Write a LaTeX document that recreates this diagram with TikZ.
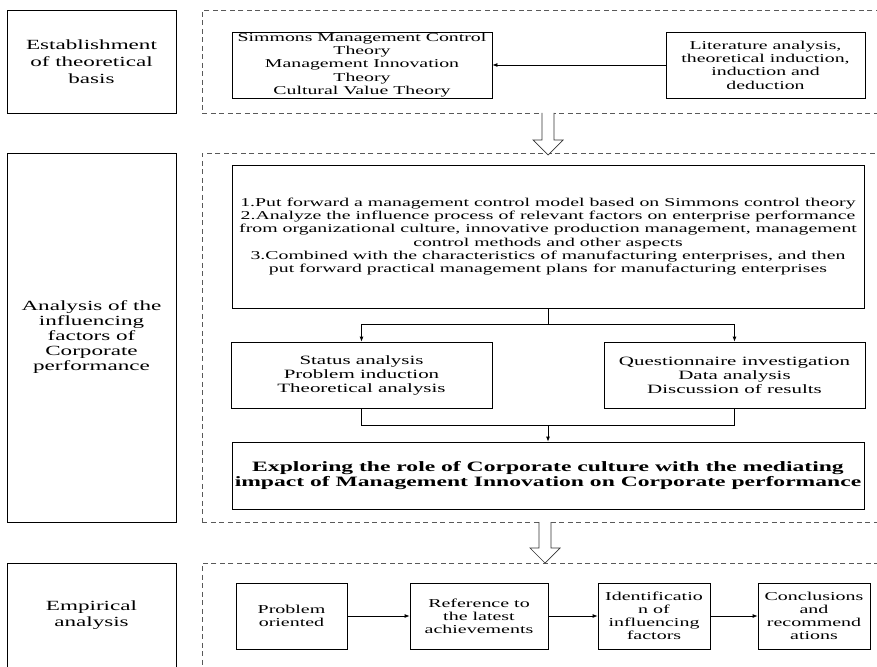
\documentclass[tikz,border=0pt]{standalone}
\usepackage{fontspec}
\setmainfont{Liberation Serif}[FakeStretch=1.65]
\usetikzlibrary{arrows.meta,positioning}

\begin{document}
\begin{tikzpicture}[x=1pt,y=-1pt,line width=0.8pt,
  every node/.style={shape=rectangle,align=center,inner sep=1pt},
  box/.style={draw=black,fill=white},
  stagebox/.style={box,minimum width=169pt,font=\fontsize{14}{15}\selectfont},
  stepbox/.style={box,minimum height=66pt,font=\fontsize{12.1}{13}\selectfont},
  dbox/.style={draw=black!65,dashed,dash pattern=on 5pt off 3.5pt,minimum width=700pt},
  flow/.style={-{Latex[length=5pt,width=4pt]}},
  hollow/.style={draw=black!80,fill=white,line width=0.7pt}]

\clip (0,0) rectangle (877,666);
\fill[white] (0,0) rectangle (877,666);

\node [stagebox, minimum height=103pt, font=\fontsize{14}{17}\selectfont] (stage1) at (91.5,61.5) {Establishment\\of theoretical\\basis};
\node [stagebox, minimum height=369pt] (stage2) at (91.5,337.5) {Analysis of the\\influencing\\factors of\\Corporate\\performance};
\node [stagebox, minimum height=104pt, font=\fontsize{14}{16}\selectfont] (stage3) at (91.5,615) {Empirical\\analysis};

\node [dbox, minimum height=103pt, anchor=north west] (part1) at (202,10) {};
\node [dbox, minimum height=369pt, anchor=north west] (part2) at (202,153) {};
\node [dbox, minimum height=110pt, anchor=north west] (part3) at (202,563) {};

\node [box, minimum width=260pt, minimum height=66pt, font=\fontsize{12}{13.2}\selectfont] (theory) at (362,65)
  {Simmons Management Control\\Theory\\Management Innovation\\Theory\\Cultural Value Theory};
\node [box, minimum width=199pt, minimum height=66pt, font=\fontsize{12}{13.3}\selectfont] (lit) at (765.5,65)
  {Literature analysis,\\theoretical induction,\\induction and\\deduction};
\draw [flow] (lit) -- (theory);

\node [box, minimum width=632pt, minimum height=143pt, font=\fontsize{12}{13.3}\selectfont] (tasks) at (548,236.5)
  {1.Put forward a management control model based on Simmons control theory\\
   2.Analyze the influence process of relevant factors on enterprise performance\\
   from organizational culture, innovative production management, management\\
   control methods and other aspects\\
   3.Combined with the characteristics of manufacturing enterprises, and then\\
   put forward practical management plans for manufacturing enterprises};
\node [box, minimum width=261pt, minimum height=66pt, font=\fontsize{12.7}{14}\selectfont] (status) at (361.5,375)
  {Status analysis\\Problem induction\\Theoretical analysis};
\node [box, minimum width=261pt, minimum height=66pt, font=\fontsize{12.7}{14}\selectfont] (quest) at (734.5,375)
  {Questionnaire investigation\\Data analysis\\Discussion of results};
\node [box, minimum width=632pt, minimum height=67pt, font=\fontsize{14.3}{15.5}\selectfont\bfseries] (explore) at (548,475.5)
  {Exploring the role of Corporate culture with the mediating\\impact of Management Innovation on Corporate performance};

\coordinate (split) at (548,324);
\coordinate (merge) at (548,425);
\draw (tasks.south) -- (split);
\draw [flow] (split) -| (status.north);
\draw [flow] (split) -| (quest.north);
\draw (status.south) |- (merge);
\draw (quest.south) |- (merge);
\draw [flow] (merge) -- (explore.north);

\node [stepbox, minimum width=111pt] (prob) at (291.5,616) {Problem\\oriented};
\node [stepbox, minimum width=138pt] (ref) at (479,616) {Reference to\\the latest\\achievements};
\node [stepbox, minimum width=112pt] (ident) at (654,616) {Identificatio\\n of\\influencing\\factors};
\node [stepbox, minimum width=112pt] (concl) at (814,616) {Conclusions\\and\\recommend\\ations};
\draw [flow] (prob) -- (ref);
\draw [flow] (ref) -- (ident);
\draw [flow] (ident) -- (concl);

\draw [hollow] (542,113) -- (542,140) -- (533,140) -- (548,155) -- (563,140) -- (554,140) -- (554,113);
\draw [hollow] (539,522) -- (539,548) -- (530,548) -- (545,563) -- (560,548) -- (551,548) -- (551,522);

\end{tikzpicture}
\end{document}
